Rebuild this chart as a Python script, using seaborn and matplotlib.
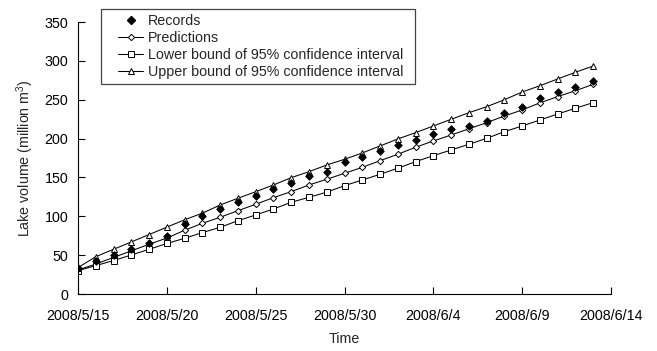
import matplotlib
matplotlib.use("Agg")
import matplotlib.pyplot as plt
import seaborn as sns
import pandas as pd
import numpy as np
from matplotlib.lines import Line2D
from matplotlib.patches import Rectangle

# ---- data ----
start_date = "2008-05-15"
n_days = 30
records = [33, 42.7, 50.5, 57.7, 66, 74.6, 90, 100, 109.4, 118.8, 126.1, 134.7, 142.5,
           151.9, 156.6, 170.3, 176.7, 184.4, 191.4, 198.2, 205.9, 211.9, 216.2, 223,
           232.5, 240.2, 252.6, 260.4, 266.8, 274.1]
predictions = [31, 38.5, 47, 55.5, 64, 72, 82, 91, 98.7, 107.2, 115.4, 124, 131.7, 140.3,
               147.6, 155.3, 163, 171.5, 179.8, 188.8, 196.9, 204.6, 212.5, 220.5, 229,
               236.8, 246, 254, 261.6, 269.8]
lower = [30, 36.5, 43, 50.2, 57.5, 65, 71.7, 79, 85.8, 94.3, 101.7, 109.4, 118, 124.4,
         131, 139.4, 146.7, 154, 161.8, 170.3, 178, 185.3, 192.6, 200.3, 208.9, 216.2,
         223.9, 231.6, 239, 246.3]
upper = [34, 48, 57.5, 67, 76.5, 86, 95.5, 104, 114.5, 123.2, 131.6, 140.3, 149.7, 157.4,
         166, 173.3, 181.5, 190.5, 199.5, 207.6, 216.2, 224.8, 233.3, 241, 250, 259.9,
         268, 276.7, 285.3, 293.4]
tick_dates = ["2008-05-15", "2008-05-20", "2008-05-25", "2008-05-30",
              "2008-06-04", "2008-06-09", "2008-06-14"]
tick_labels = ["2008/5/15", "2008/5/20", "2008/5/25", "2008/5/30",
               "2008/6/4", "2008/6/9", "2008/6/14"]
labels = ["Records", "Predictions", "Lower bound of 95% confidence interval",
          "Upper bound of 95% confidence interval"]

dates = pd.date_range(start_date, periods=n_days, freq="D")
df = pd.DataFrame({"date": dates, "records": records, "pred": predictions,
                   "lower": lower, "upper": upper})

sns.set_style("ticks")
plt.rcParams["font.family"] = ["Liberation Sans", "DejaVu Sans"]
plt.rcParams["mathtext.fontset"] = "custom"
plt.rcParams["mathtext.rm"] = "Liberation Sans"
plt.rcParams["mathtext.it"] = "Liberation Sans"

W, H = 657, 351
fig = plt.figure(figsize=(W / 100, H / 100), dpi=100)
ax = fig.add_axes([78 / W, 1 - 294 / H, (611 - 78) / W, (294 - 22) / H])

lw = 0.75
sns.lineplot(data=df, x="date", y="pred", ax=ax, color="black", lw=lw,
             marker="D", markersize=3.2, mfc="white", mec="black", mew=0.7)
sns.lineplot(data=df, x="date", y="lower", ax=ax, color="black", lw=lw,
             marker="s", markersize=3.9, mfc="white", mec="black", mew=0.7)
sns.lineplot(data=df, x="date", y="upper", ax=ax, color="black", lw=lw,
             marker="^", markersize=4.6, mfc="white", mec="black", mew=0.7)
sns.scatterplot(data=df, x="date", y="records", ax=ax, color="black",
                marker="D", s=15, edgecolor="black", linewidth=0.6, zorder=5)

ax.set_xlim(pd.Timestamp(tick_dates[0]), pd.Timestamp(tick_dates[-1]))
ax.set_ylim(0, 350)
ax.set_xticks([pd.Timestamp(d) for d in tick_dates])
ax.set_xticklabels(tick_labels)
ax.set_yticks(range(0, 351, 50))
ax.tick_params(direction="in", length=5, width=0.8, labelsize=10.3, colors="black")
ax.tick_params(axis="x", pad=11)
ax.tick_params(axis="y", pad=7)
for s in ["top", "right"]:
    ax.spines[s].set_visible(False)
for s in ["left", "bottom"]:
    ax.spines[s].set_linewidth(0.8)
    ax.spines[s].set_color("black")

ax.set_xlabel("Time", fontsize=10.3, labelpad=6)
ax.set_ylabel("Lake volume (million m$^3$)", fontsize=10.3, labelpad=6)

# legend frame
fig.patches.append(Rectangle((101 / W, 1 - 84 / H), (415 - 101) / W, (84 - 9) / H,
                             transform=fig.transFigure, fill=True, facecolor="white",
                             edgecolor="#444444", lw=0.9, zorder=10))

handles = [
    Line2D([], [], ls="none", marker="D", markersize=3.6, color="black"),
    Line2D([], [], color="black", lw=lw, marker="D", markersize=3.2, mfc="white", mew=0.7),
    Line2D([], [], color="black", lw=lw, marker="s", markersize=3.9, mfc="white", mew=0.7),
    Line2D([], [], color="black", lw=lw, marker="^", markersize=4.6, mfc="white", mew=0.7),
]
leg = fig.legend(handles, labels, loc="upper left", bbox_to_anchor=(118 / W, 1 - 14 / H),
                 bbox_transform=fig.transFigure,
                 fontsize=10.3, frameon=False, borderpad=0, labelspacing=0.22,
                 handlelength=1.75, handletextpad=0.35, borderaxespad=0)
leg.set_zorder(11)

fig.savefig("out.png", dpi=100)
